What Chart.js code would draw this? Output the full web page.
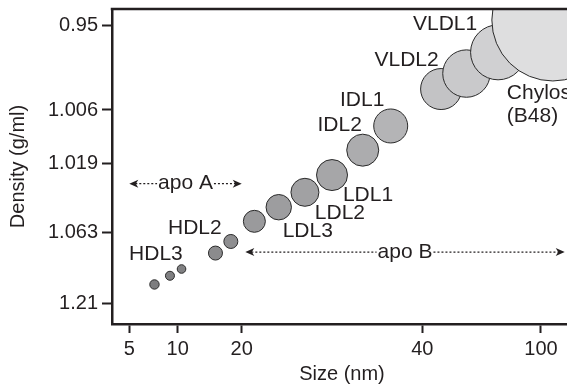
<!DOCTYPE html>
<html>
<head>
<meta charset="utf-8">
<script src="https://cdn.jsdelivr.net/npm/chart.js@4/dist/chart.umd.min.js"></script>
<style>
  html, body { margin: 0; padding: 0; background: #fff; overflow: hidden; }
  #wrap { width: 567px; height: 386px; overflow: hidden; }
</style>
</head>
<body>
<div id="wrap"><canvas id="chart" width="580" height="386"></canvas></div>
<script>
// lipoprotein classes, particle size vs hydrated density
const sizeTicks = [5, 10, 20, 40, 100]
const densityTicks = [0.95, 1.006, 1.019, 1.063, 1.21]

const sizes = [7.6, 9.2, 10.6, 15.9, 18.3, 21.4, 24.1, 27.0, 30.0, 33.4, 36.5, 49.5, 62.3, 78.3, 106]
const densities = [1.171, 1.153, 1.139, 1.106, 1.082, 1.056, 1.047, 1.0375, 1.0265, 1.0158, 1.0099, 0.9922, 0.982, 0.968, 0.9467]
const bubbleRadius = [4.7, 4.5, 4.3, 7, 7, 11, 12.7, 14, 15.5, 16, 17, 20.5, 23.7, 27.5, 61]

const classNames = ['HDL3', 'HDL2', 'LDL3', 'LDL2', 'LDL1', 'IDL2', 'IDL1', 'VLDL2', 'VLDL1', 'Chylos\n(B48)']
const classAnchor = [1, 4, 6, 7, 8, 9, 10, 11, 13, 14]   // bubble each name sits by

const apoNames = ['apo A', 'apo B']
const apoFrom = [5, 20.4]
const apoTo = [20, 112]
const apoDensity = [1.032, 1.104]

const INK = '#231f20'
const FONT = '"Liberation Sans", Arial, Helvetica, sans-serif'

// axis that is linear between hand placed ticks (the original is drawn that way)
class SegmentScale extends Chart.LinearScale {
  static id = 'segment'
  static defaults = Chart.LinearScale.defaults

  buildTicks() {
    return this.options.tickValues.map(v => ({ value: v }))
  }

  _stops() {
    const o = this.options
    return [[o.min, 0]].concat(o.tickValues.map((v, i) => [v, o.place[i]]), [[o.max, 1]])
  }

  getPixelForValue(value) {
    const s = this._stops()
    let i = 1
    while (i < s.length - 1 && value > s[i][0]) i++
    const f = s[i - 1][1] + (value - s[i - 1][0]) / (s[i][0] - s[i - 1][0]) * (s[i][1] - s[i - 1][1])
    return this.isHorizontal() ? this.left + f * this.width : this.top + f * this.height
  }

  getValueForPixel(pixel) {
    const s = this._stops()
    const f = this.isHorizontal() ? (pixel - this.left) / this.width : (pixel - this.top) / this.height
    let i = 1
    while (i < s.length - 1 && f > s[i][1]) i++
    return s[i - 1][0] + (f - s[i - 1][1]) / (s[i][1] - s[i - 1][1]) * (s[i][0] - s[i - 1][0])
  }
}
Chart.register(SegmentScale)

function arrowHead(ctx, x, y, dir) {
  ctx.beginPath()
  ctx.moveTo(x, y)
  ctx.lineTo(x - dir * 9, y - 4)
  ctx.lineTo(x - dir * 6.5, y)
  ctx.lineTo(x - dir * 9, y + 4)
  ctx.closePath()
  ctx.fill()
}

const annotate = {
  id: 'annotate',
  afterDatasetsDraw(chart, args, opts) {
    const { ctx, chartArea } = chart
    const xs = chart.scales.x, ys = chart.scales.y
    const pts = chart.getDatasetMeta(0).data
    ctx.save()

    // frame top and right
    ctx.strokeStyle = INK
    ctx.lineWidth = 2.5
    ctx.beginPath()
    ctx.moveTo(chartArea.left - 1.25, chartArea.top)
    ctx.lineTo(chartArea.right, chartArea.top)
    ctx.lineTo(chartArea.right, chartArea.bottom)
    ctx.stroke()

    ctx.fillStyle = INK
    ctx.font = opts.font
    ctx.textBaseline = 'middle'
    classNames.forEach((name, i) => {
      const p = pts[classAnchor[i]]
      const [dx, dy, align] = opts.offsets[i]
      ctx.textAlign = align || 'center'
      name.split('\n').forEach((line, k) => {
        ctx.fillText(line, p.x + dx, p.y + dy + k * 23.5)
      })
    })

    // apo ranges
    ctx.textAlign = 'center'
    ctx.strokeStyle = INK
    apoNames.forEach((name, i) => {
      const x0 = xs.getPixelForValue(apoFrom[i])
      const x1 = xs.getPixelForValue(apoTo[i])
      const y = ys.getPixelForValue(apoDensity[i])
      const mid = (x0 + x1) / 2
      const half = ctx.measureText(name).width / 2 + 1
      ctx.setLineDash([2, 2])
      ctx.lineWidth = 1.2
      ctx.beginPath()
      ctx.moveTo(x0 + 6, y); ctx.lineTo(mid - half, y)
      ctx.moveTo(mid + half, y); ctx.lineTo(x1 - 6, y)
      ctx.stroke()
      ctx.setLineDash([])
      arrowHead(ctx, x0, y, -1)
      arrowHead(ctx, x1, y, 1)
      ctx.fillText(name, mid, y)
    })
    ctx.restore()
  }
}

const axisFont = { family: FONT, size: 20 }

new Chart(document.getElementById('chart'), {
  type: 'bubble',
  data: {
    datasets: [{
      data: sizes.map((s, i) => ({ x: s, y: densities[i], r: bubbleRadius[i] })),
      backgroundColor: ['#7d7d7f', '#7f7f81', '#818183', '#8b8b8d', '#8e8e90', '#9a9a9c', '#9d9d9f',
        '#a1a1a3', '#a6a6a8', '#acacae', '#b4b4b6', '#c3c3c5', '#c9c9cb', '#d0d0d2', '#dededf'],
      borderColor: '#2a2a2a',
      borderWidth: 1,
      clip: 0
    }]
  },
  options: {
    responsive: false,
    animation: false,
    events: [],
    layout: { autoPadding: false, padding: { top: 9, right: 8, left: 0, bottom: 0 } },
    plugins: {
      legend: { display: false },
      tooltip: { enabled: false },
      annotate: {
        font: '21px ' + FONT,
        offsets: [[-14, -22], [-36, -13], [29, 24], [35, 21], [36, 20.5], [-23, -24.5],
          [-28.5, -25.5], [-34.5, -29.3], [-53, -28.5], [-46, 73, 'left']]
      }
    },
    scales: {
      x: {
        type: 'segment',
        position: 'bottom',
        min: 3.21,
        max: 115.7,
        tickValues: sizeTicks,
        place: [0.0376, 0.1428, 0.2820, 0.6746, 0.9326],
        afterFit(s) { s.height = 62; s.paddingLeft = 0; s.paddingRight = 0 },
        grid: { drawOnChartArea: false, tickLength: 9, tickWidth: 2, tickColor: INK },
        border: { color: INK, width: 2.5 },
        ticks: { autoSkip: false, maxRotation: 0, padding: 4, color: INK, font: axisFont, callback: v => String(v) },
        title: { display: true, text: 'Size (nm)', color: INK, font: { family: FONT, size: 20 }, padding: { top: 0, bottom: 0 } }
      },
      y: {
        type: 'segment',
        position: 'left',
        min: 0.9395,
        max: 1.2529,
        tickValues: densityTicks,
        place: [0.0508, 0.3206, 0.4898, 0.7089, 0.9343],
        afterFit(s) { s.width = 112; s.paddingTop = 0; s.paddingBottom = 0 },
        grid: { drawOnChartArea: false, tickLength: 10, tickWidth: 2, tickColor: INK },
        border: { color: INK, width: 2.5 },
        ticks: { autoSkip: false, padding: 4, color: INK, font: axisFont, callback: v => String(v) },
        title: { display: true, text: 'Density (g/ml)', color: INK, font: { family: FONT, size: 20 }, padding: { top: 6, bottom: 0 } }
      }
    }
  },
  plugins: [annotate]
})
</script>
</body>
</html>
